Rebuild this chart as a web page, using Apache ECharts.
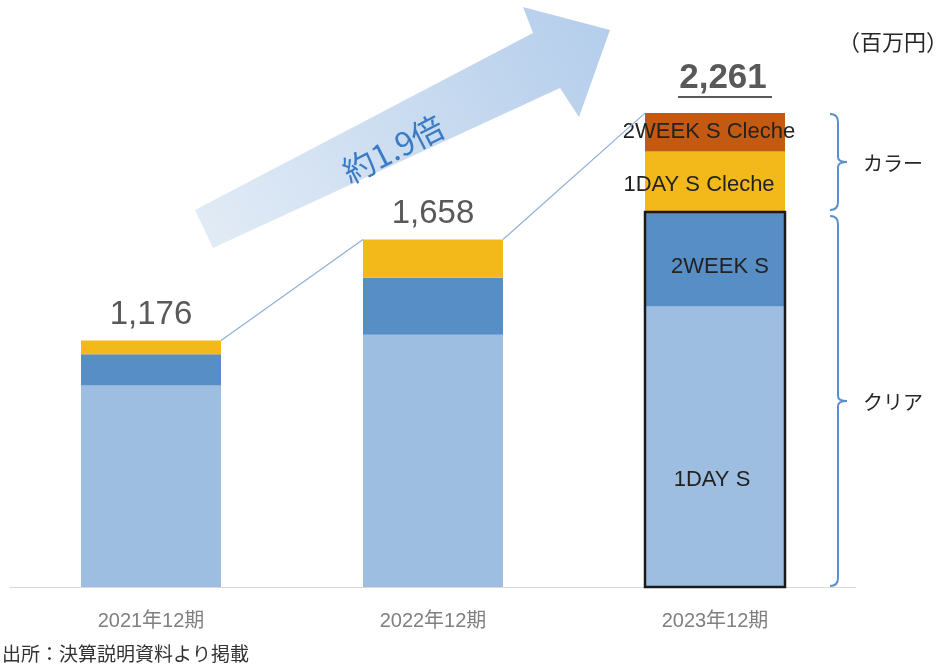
<!DOCTYPE html>
<html><head><meta charset="utf-8">
<script src="https://cdn.jsdelivr.net/npm/echarts@6/dist/echarts.min.js"></script>
<style>html,body{margin:0;padding:0;background:#fff}#c{width:944px;height:664px}</style>
</head><body><div id="c"></div>
<script>
const categories = ['2021年12期', '2022年12期', '2023年12期'];
const oneDayS = [961, 1203, 1338];
const twoWeekS = [150, 273, 451];
const oneDayCleche = [65, 182, 289];
const twoWeekCleche = [0, 0, 183];
const totals = [1176, 1658, 2261];
const totalLabels = ['1,176', '1,658', '2,261'];
const segmentNames = ['1DAY S', '2WEEK S', '1DAY S Cleche', '2WEEK S Cleche'];
const groupNames = ['カラー', 'クリア'];
const unitText = '（百万円）';
const growthText = '約1.9倍';
const sourceText = '出所：決算説明資料より掲載';

const LAT = '"Liberation Sans", Arial, "Noto Sans CJK JP", sans-serif';
const JP = '"Noto Sans CJK JP", sans-serif';
const BAR_W = 140;
const last = categories.length - 1;

function seg(name, values, color, labelOpt) {
  return {
    name: name, type: 'bar', stack: 'total', barWidth: BAR_W,
    itemStyle: { color: color },
    emphasis: { disabled: true },
    data: values.map((v, i) => i === last ? {
      value: v,
      label: Object.assign({
        show: true, position: 'inside', formatter: name,
        fontFamily: LAT, fontSize: 22, color: '#222'
      }, labelOpt)
    } : v)
  };
}

const chart = echarts.init(document.getElementById('c'));
chart.setOption({
  animation: false,
  grid: { left: 10, right: 88, top: 63, bottom: 77 },
  xAxis: {
    type: 'category', data: categories,
    axisLine: { lineStyle: { color: '#d9d9d9', width: 1 } },
    axisTick: { show: false },
    axisLabel: { color: '#808080', fontSize: 20, fontFamily: LAT, margin: 24 }
  },
  yAxis: { type: 'value', min: 0, max: 2500, show: false, splitLine: { show: false } },
  graphic: [
    {
      type: 'polygon', z: 0,
      shape: { points: [[195, 210], [533, 33], [523, 7], [610, 30], [579, 117], [560, 88], [213, 248]] },
      style: {
        fill: new echarts.graphic.LinearGradient(0, 1, 1, 0, [
          { offset: 0, color: '#e3ecf6' },
          { offset: 1, color: '#b3cdeb' }
        ])
      }
    },
    {
      type: 'text', x: 393, y: 149, rotation: 27 * Math.PI / 180, z: 1,
      style: { text: growthText, fill: '#3b7bc6', font: '32px ' + JP, align: 'center', verticalAlign: 'middle' }
    },
    {
      type: 'text', right: -4, top: 31,
      style: { text: unitText, fill: '#262626', font: '22px ' + JP }
    },
    {
      type: 'text', left: 2, top: 644,
      style: { text: sourceText, fill: '#333', font: '19px ' + JP }
    }
  ],
  series: [
    seg(segmentNames[0], oneDayS, '#9dbde1', { offset: [-3, 33] }),
    seg(segmentNames[1], twoWeekS, '#588ec6', { offset: [5, 8] }),
    seg(segmentNames[2], oneDayCleche, '#f3b819', { offset: [-16, 3] }),
    seg(segmentNames[3], twoWeekCleche, '#c45911', { offset: [-6, 0] }),
    {
      type: 'custom', name: 'connectors', z: 5,
      data: totals.slice(0, -1).map((v, i) => [i, v, totals[i + 1]]),
      renderItem: function (params, api) {
        const i = api.value(0);
        const p1 = api.coord([i, api.value(1)]);
        const p2 = api.coord([i + 1, api.value(2)]);
        return {
          type: 'line',
          shape: { x1: p1[0] + BAR_W / 2, y1: p1[1], x2: p2[0] - BAR_W / 2, y2: p2[1] },
          style: { stroke: '#8fb0d9', lineWidth: 1.2 }
        };
      }
    },
    {
      type: 'custom', name: 'clearOutline', z: 6,
      data: [[last, oneDayS[last] + twoWeekS[last]]],
      renderItem: function (params, api) {
        const top = api.coord([api.value(0), api.value(1)]);
        const bot = api.coord([api.value(0), 0]);
        return {
          type: 'rect',
          shape: { x: top[0] - BAR_W / 2, y: top[1], width: BAR_W, height: bot[1] - top[1] },
          style: { fill: 'none', stroke: '#1a1a1a', lineWidth: 2.5 }
        };
      }
    },
    {
      type: 'custom', name: 'totals', z: 7,
      data: totals.map((v, i) => [i, v]),
      renderItem: function (params, api) {
        const i = api.value(0);
        const p = api.coord([i, api.value(1)]);
        const isLast = i === last;
        const children = [{
          type: 'text',
          style: {
            text: totalLabels[i], x: p[0] + (isLast ? 8 : 0), y: p[1] - (isLast ? 35 : 26),
            align: 'center', verticalAlign: 'middle',
            font: (isLast ? 'bold 35px ' : '33px ') + LAT, fill: '#595959'
          }
        }];
        if (isLast) {
          children.push({
            type: 'line',
            shape: { x1: p[0] - 37, y1: p[1] - 16, x2: p[0] + 57, y2: p[1] - 16 },
            style: { stroke: '#595959', lineWidth: 2 }
          });
        }
        return { type: 'group', children: children };
      }
    },
    {
      type: 'custom', name: 'brackets', z: 7,
      data: [
        [last, oneDayS[last] + twoWeekS[last], totals[last], 0],
        [last, 0, oneDayS[last] + twoWeekS[last], 1]
      ],
      renderItem: function (params, api) {
        const c = api.value(0);
        const b = api.coord([c, api.value(1)]);
        const t = api.coord([c, api.value(2)]);
        const kind = api.value(3);
        const x = b[0] + BAR_W / 2 + 53;
        const top = t[1] + (kind === 0 ? 1 : 4);
        const bot = b[1] - (kind === 0 ? 2 : 1);
        const mid = (top + bot) / 2;
        const r = 8;
        const d = 'M' + (x - r) + ' ' + top + ' Q' + x + ' ' + top + ' ' + x + ' ' + (top + r) +
          ' L' + x + ' ' + (mid - 5) + ' Q' + x + ' ' + mid + ' ' + (x + 9) + ' ' + mid +
          ' Q' + x + ' ' + mid + ' ' + x + ' ' + (mid + 5) +
          ' L' + x + ' ' + (bot - r) + ' Q' + x + ' ' + bot + ' ' + (x - r) + ' ' + bot;
        return {
          type: 'group',
          children: [
            { type: 'path', shape: { pathData: d }, style: { fill: 'none', stroke: '#5b8fc9', lineWidth: 2 } },
            {
              type: 'text',
              style: {
                text: groupNames[kind], x: x + 25, y: mid + 1,
                align: 'left', verticalAlign: 'middle', font: '20px ' + JP, fill: '#262626'
              }
            }
          ]
        };
      }
    }
  ]
});
</script>
</body></html>
